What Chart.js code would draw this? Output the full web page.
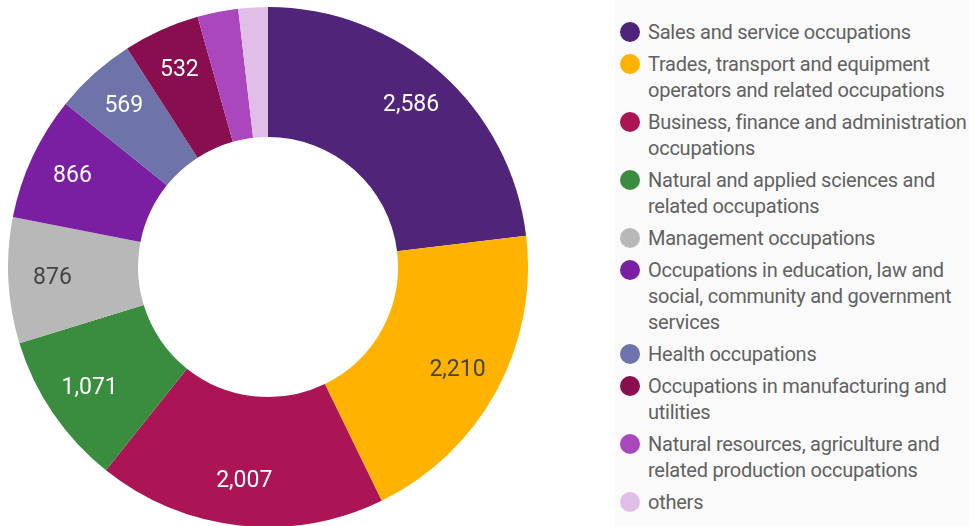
<!DOCTYPE html>
<html>
<head>
<meta charset="utf-8">
<script src="https://cdn.jsdelivr.net/npm/chart.js@4.4.0/dist/chart.umd.min.js"></script>
<style>
  html, body { margin: 0; padding: 0; background: #ffffff; width: 969px; height: 526px; overflow: hidden; font-family: Roboto, sans-serif; }
  #chartWrap { position: absolute; left: 7.5px; top: 7px; width: 520px; height: 520px; }
  #legendBg { position: absolute; left: 615px; top: 0; width: 354px; height: 526px; background: #fafafa; }
  #legend { position: absolute; left: 620px; top: 19px; width: 360px; }
  .item { position: relative; padding-left: 28px; margin-bottom: 6px; font-size: 20px; line-height: 26px; letter-spacing: -0.24px; color: #616161; white-space: nowrap; }
  .dot { position: absolute; left: 0; top: 3px; width: 20px; height: 20px; border-radius: 50%; }
</style>
</head>
<body>
<div id="legendBg"></div>
<div id="chartWrap"><canvas id="c"></canvas></div>
<div id="legend"></div>
<script>
// ---- data ----
const categories = [
  "Sales and service occupations",
  "Trades, transport and equipment operators and related occupations",
  "Business, finance and administration occupations",
  "Natural and applied sciences and related occupations",
  "Management occupations",
  "Occupations in education, law and social, community and government services",
  "Health occupations",
  "Occupations in manufacturing and utilities",
  "Natural resources, agriculture and related production occupations",
  "others"
];
// legend line breaks as shown in the reference
const legendLines = [
  ["Sales and service occupations"],
  ["Trades, transport and equipment", "operators and related occupations"],
  ["Business, finance and administration", "occupations"],
  ["Natural and applied sciences and", "related occupations"],
  ["Management occupations"],
  ["Occupations in education, law and", "social, community and government", "services"],
  ["Health occupations"],
  ["Occupations in manufacturing and", "utilities"],
  ["Natural resources, agriculture and", "related production occupations"],
  ["others"]
];
const values = [2586, 2210, 2007, 1071, 876, 866, 569, 532, 284, 205];
const showLabel = [true, true, true, true, true, true, true, true, false, false];
const colors = ["#4f2479", "#ffb200", "#ab1556", "#3a8c3f", "#b8b8b8", "#7a1ea2", "#6e74aa", "#880e4f", "#ab47bc", "#e1bee7"];
const labelColors = ["#ffffff", "#444444", "#ffffff", "#ffffff", "#444444", "#ffffff", "#ffffff", "#ffffff", "#ffffff", "#444444"];

// ---- legend (HTML) ----
const lg = document.getElementById('legend');
legendLines.forEach((lines, i) => {
  const d = document.createElement('div');
  d.className = 'item';
  d.innerHTML = '<span class="dot" style="background:' + colors[i] + '"></span>' + lines.join('<br>');
  lg.appendChild(d);
});

// ---- value labels plugin ----
const sliceLabels = {
  id: 'sliceLabels',
  afterDatasetsDraw(chart) {
    const ctx = chart.ctx;
    const meta = chart.getDatasetMeta(0);
    ctx.save();
    ctx.font = '23px Roboto';
    ctx.textAlign = 'center';
    ctx.textBaseline = 'middle';
    meta.data.forEach((arc, i) => {
      if (!showLabel[i]) return;
      const p = arc.getProps(['x', 'y', 'startAngle', 'endAngle', 'outerRadius', 'innerRadius'], true);
      const mid = (p.startAngle + p.endAngle) / 2;
      const r = p.innerRadius + (p.outerRadius - p.innerRadius) * 0.66;
      const x = p.x + Math.cos(mid) * r;
      const y = p.y + Math.sin(mid) * r;
      ctx.fillStyle = labelColors[i];
      ctx.fillText(values[i].toLocaleString('en-US'), x, y);
    });
    ctx.restore();
  }
};

new Chart(document.getElementById('c'), {
  type: 'doughnut',
  data: {
    labels: categories,
    datasets: [{ data: values, backgroundColor: colors, borderWidth: 0, hoverOffset: 0 }]
  },
  options: {
    responsive: true,
    maintainAspectRatio: false,
    animation: false,
    cutout: '50%',
    layout: { padding: 0 },
    plugins: { legend: { display: false }, tooltip: { enabled: false } }
  },
  plugins: [sliceLabels]
});
</script>
</body>
</html>
